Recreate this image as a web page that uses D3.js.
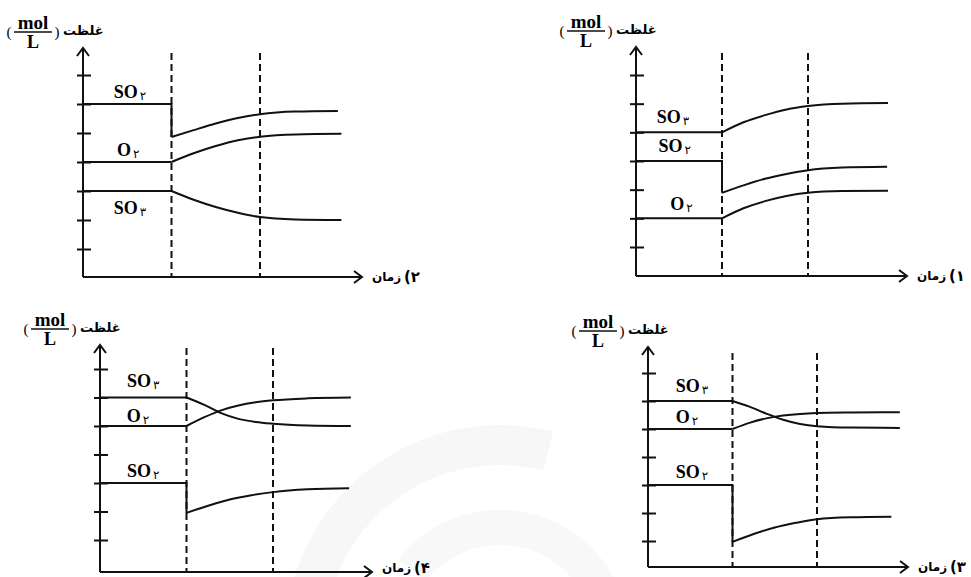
<!DOCTYPE html>
<html>
<head>
<meta charset="utf-8">
<script src="https://cdn.jsdelivr.net/npm/d3@7"></script>
<style>
body { margin: 0; background: #fff; }
</style>
</head>
<body>
<div id="chart"></div>
<script>
var width = 971,
    height = 577;

// tick marks on every concentration axis
var tickValues = [1, 2, 3, 4, 5, 6, 7];
// dashed lines: disturbance, new equilibrium
var eventTimes = [1, 2];

// panel 1
var p1SO3 = [[0,5],[1,5],[1.25,5.35],[1.5,5.6],[1.75,5.8],[2,5.92],[2.4,6.0],[2.93,6.02]];
var p1SO2 = [[0,4],[1,4],[1,2.89],[1.25,3.15],[1.5,3.38],[1.75,3.55],[2,3.68],[2.4,3.77],[2.92,3.8]];
var p1O2  = [[0,2],[1,2],[1.25,2.35],[1.5,2.6],[1.75,2.78],[2,2.89],[2.4,2.95],[2.93,2.96]];
var p1Labels = [["SO","۳",0.43,5.33],["SO","۲",0.45,4.32],["O","۲",0.53,2.3]];

// panel 2
var p2SO2 = [[0,6],[1,6],[1,4.86],[1.25,5.1],[1.5,5.33],[1.75,5.52],[2,5.65],[2.4,5.74],[2.88,5.76]];
var p2O2  = [[0,4],[1,4],[1.25,4.3],[1.5,4.55],[1.75,4.75],[2,4.87],[2.4,4.95],[2.92,4.97]];
var p2SO3 = [[0,3],[1,3],[1.25,2.7],[1.5,2.45],[1.75,2.25],[2,2.1],[2.4,2.02],[2.92,2.0]];
var p2Labels = [["SO","۲",0.53,6.2],["O","۲",0.51,4.2],["SO","۳",0.53,2.2]];

// panel 3
var p3SO3 = [[0,6],[1,6],[1.2,5.8],[1.4,5.55],[1.6,5.33],[1.8,5.18],[2,5.1],[2.4,5.05],[2.98,5.04]];
var p3O2  = [[0,5],[1,5],[1.2,5.22],[1.4,5.38],[1.6,5.48],[1.8,5.54],[2,5.57],[2.4,5.59],[2.98,5.6]];
var p3SO2 = [[0,3],[1,3],[1,0.97],[1.25,1.25],[1.5,1.48],[1.75,1.65],[2,1.78],[2.4,1.85],[2.88,1.87]];
var p3Labels = [["SO","۳",0.52,6.32],["O","۲",0.46,5.21],["SO","۲",0.52,3.25]];

// panel 4
var p4SO3 = [[0,6],[1,6],[1.2,5.75],[1.4,5.45],[1.6,5.25],[1.8,5.14],[2,5.08],[2.4,5.02],[2.9,5.0]];
var p4O2  = [[0,5],[1,5],[1.2,5.3],[1.4,5.55],[1.6,5.72],[1.8,5.83],[2,5.9],[2.4,5.97],[2.9,6.0]];
var p4SO2 = [[0,3],[1,3],[1,1.95],[1.25,2.2],[1.5,2.42],[1.75,2.57],[2,2.68],[2.4,2.78],[2.88,2.82]];
var p4Labels = [["SO","۳",0.5,6.37],["O","۲",0.44,5.14],["SO","۲",0.5,3.21]];

var panelNames = ["۱", "۲", "۳", "۴"];
var yTitle = "غلظت";
var xTitle = "زمان";

// where each small chart sits on the page
var layout = [
    {ox: 636, d2: 808, oy: 276, top: 47,  right: 907, t1: 247, t7: 75,  dashTop: 53,  series: [p1SO3, p1SO2, p1O2], labels: p1Labels},
    {ox: 83,  d2: 260, oy: 277, top: 48,  right: 362, t1: 249, t7: 75,  dashTop: 53,  series: [p2SO2, p2O2, p2SO3], labels: p2Labels},
    {ox: 648, d2: 817, oy: 567, top: 347, right: 908, t1: 541, t7: 373, dashTop: 353, series: [p3SO3, p3O2, p3SO2], labels: p3Labels},
    {ox: 100, d2: 273, oy: 572, top: 345, right: 372, t1: 540, t7: 369, dashTop: 348, series: [p4SO3, p4O2, p4SO2], labels: p4Labels}
];

var svg = d3.select('#chart').append('svg')
    .attr('width', width)
    .attr('height', height);

// faint watermark behind the lower charts
var wm = svg.append('g').attr('transform', 'translate(500,640)');
wm.append('path')
    .attr('d', d3.arc()({innerRadius: 175, outerRadius: 215, startAngle: -1.35, endAngle: 0.25}))
    .attr('fill', '#f7f7f7');
wm.append('path')
    .attr('d', d3.arc()({innerRadius: 95, outerRadius: 130, startAngle: -0.9, endAngle: 1.2}))
    .attr('fill', '#f8f8f8');

function drawPanel(p, i) {
    var g = svg.append('g');
    var x = d3.scaleLinear().domain([0, 2]).range([p.ox, p.d2]);
    var y = d3.scaleLinear().domain([1, 7]).range([p.t1, p.t7]);

    // dashed event lines
    g.selectAll('.event').data(eventTimes).enter().append('line')
        .attr('class', 'event')
        .attr('x1', d => x(d)).attr('x2', d => x(d))
        .attr('y1', p.dashTop).attr('y2', p.oy)
        .attr('stroke', '#111').attr('stroke-width', 2)
        .attr('stroke-dasharray', '7,4');

    // tick marks crossing the y axis
    var axis = d3.axisLeft(y).tickValues(tickValues).tickSize(14).tickFormat('');
    var ax = g.append('g').attr('transform', 'translate(' + (p.ox + 8) + ',0)').call(axis);
    ax.select('.domain').remove();
    ax.selectAll('line').attr('stroke', '#111').attr('stroke-width', 2);

    // axes with open arrow heads
    g.append('path')
        .attr('d', 'M' + p.ox + ',' + p.oy + 'V' + p.top + 'M' + (p.ox - 6) + ',' + (p.top + 8) + 'L' + p.ox + ',' + p.top + 'L' + (p.ox + 6) + ',' + (p.top + 8))
        .attr('fill', 'none').attr('stroke', '#111').attr('stroke-width', 2);
    g.append('path')
        .attr('d', 'M' + p.ox + ',' + p.oy + 'H' + p.right + 'M' + (p.right - 8) + ',' + (p.oy - 6) + 'L' + p.right + ',' + p.oy + 'L' + (p.right - 8) + ',' + (p.oy + 6))
        .attr('fill', 'none').attr('stroke', '#111').attr('stroke-width', 2);

    // concentration curves: straight part (with drop) then smooth part
    var straight = d3.line().x(d => x(d[0])).y(d => y(d[1]));
    var smooth = d3.line().x(d => x(d[0])).y(d => y(d[1])).curve(d3.curveMonotoneX);
    p.series.forEach(s => {
        var k = s.findIndex(d => d[0] > eventTimes[0]) - 1;
        g.append('path').attr('d', straight(s.slice(0, k + 1)))
            .attr('fill', 'none').attr('stroke', '#111').attr('stroke-width', 2);
        g.append('path').attr('d', smooth(s.slice(k)))
            .attr('fill', 'none').attr('stroke', '#111').attr('stroke-width', 2);
    });

    // species labels
    p.labels.forEach(l => {
        var t = g.append('text')
            .attr('x', x(l[2])).attr('y', y(l[3]))
            .attr('text-anchor', 'middle');
        t.append('tspan').text(l[0])
            .attr('font-family', 'Liberation Serif').attr('font-weight', 'bold').attr('font-size', 18);
        t.append('tspan').text(l[1])
            .attr('dx', 2).attr('dy', 2)
            .attr('font-family', 'DejaVu Sans').attr('font-size', 12);
    });

    // y title: concentration (mol / L)
    var fx = p.ox - 50, by = p.top - 16;
    g.append('text').attr('x', fx).attr('y', by - 3).attr('text-anchor', 'middle')
        .attr('font-family', 'Liberation Serif').attr('font-weight', 'bold').attr('font-size', 19).text('mol');
    g.append('line').attr('x1', fx - 19).attr('x2', fx + 19).attr('y1', by).attr('y2', by)
        .attr('stroke', '#111').attr('stroke-width', 1.5);
    g.append('text').attr('x', fx).attr('y', by + 16).attr('text-anchor', 'middle')
        .attr('font-family', 'Liberation Serif').attr('font-weight', 'bold').attr('font-size', 18).text('L');
    g.append('text').attr('x', fx - 24).attr('y', by + 5).attr('text-anchor', 'middle')
        .attr('font-family', 'Liberation Serif').attr('font-size', 15).text('(');
    g.append('text').attr('x', fx + 24).attr('y', by + 5).attr('text-anchor', 'middle')
        .attr('font-family', 'Liberation Serif').attr('font-size', 15).text(')');
    g.append('text').attr('x', fx + 30).attr('y', p.top - 13).attr('text-anchor', 'start')
        .attr('font-family', 'DejaVu Sans').attr('font-weight', 'bold').attr('font-size', 13).text(yTitle);

    // x title, then the option number to its right
    var capY = Math.min(p.oy + 4, height - 5);
    g.append('text').attr('x', p.right + 10).attr('y', capY)
        .attr('font-family', 'DejaVu Sans').attr('font-weight', 'bold').attr('font-size', 12)
        .text(xTitle);
    g.append('text').attr('x', p.right + 42).attr('y', capY + 1)
        .attr('font-family', 'DejaVu Sans').attr('font-weight', 'bold').attr('font-size', 15)
        .text('(' + panelNames[i]);
}

layout.forEach(drawPanel);
</script>
</body>
</html>
